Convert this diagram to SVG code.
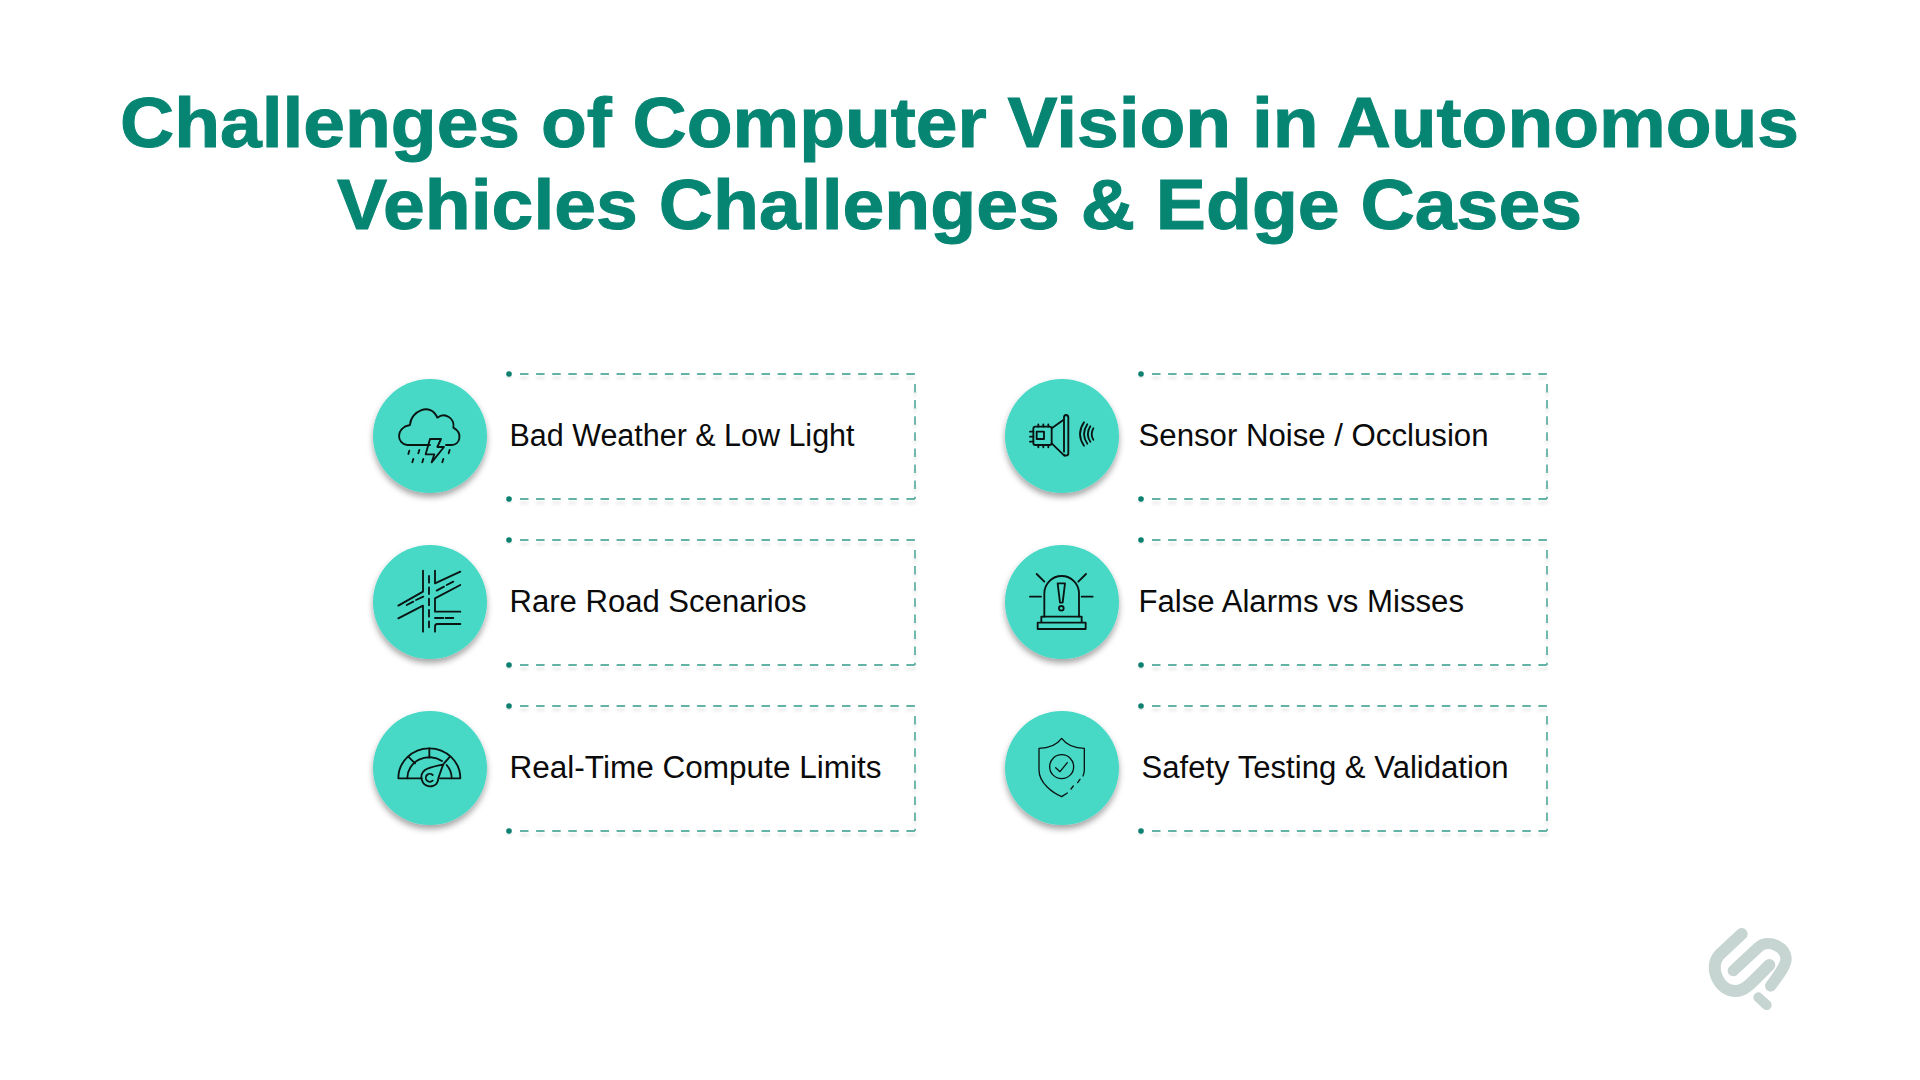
<svg xmlns="http://www.w3.org/2000/svg" width="1920" height="1080" viewBox="0 0 1920 1080">
<style>
.title{font-family:"Liberation Sans",Arial,sans-serif;font-weight:700;font-size:71px;fill:#078573;stroke:#078573;stroke-width:1}
.label{font-family:"Liberation Sans",Arial,sans-serif;font-size:31px;fill:#0b0b0b}
.disc{fill:#46d9c6;filter:url(#discShadow)}
.frame{fill:none;stroke:#62b3a5;stroke-width:1.8;stroke-dasharray:8.5 7.6;filter:url(#lineShadow)}
.dot{fill:#0a8070;filter:url(#lineShadow)}
.ico{fill:none;stroke:#0a1412;stroke-width:5.5;stroke-linecap:round;stroke-linejoin:round}
.thin{stroke-width:4}
.logo{fill:none;stroke:#c6d5d1;stroke-linecap:round;stroke-linejoin:round}
</style>
<defs>
<filter id="discShadow" x="-30%" y="-30%" width="160%" height="160%"><feDropShadow dx="0" dy="4" stdDeviation="3" flood-color="#000" flood-opacity=".36"/></filter>
<filter id="lineShadow" x="-5%" y="-20%" width="110%" height="140%"><feDropShadow dx="0" dy="4" stdDeviation="1.6" flood-color="#000" flood-opacity=".1"/></filter>
</defs>
<rect width="1920" height="1080" fill="#fff"/>
<g id="title">
<text class="title" x="120" y="147" textLength="1679" lengthAdjust="spacingAndGlyphs">Challenges of Computer Vision in Autonomous</text>
<text class="title" x="337" y="229" textLength="1245" lengthAdjust="spacingAndGlyphs">Vehicles Challenges &amp; Edge Cases</text>
</g>
<g id="connectors"></g>

<g id="node-bad-weather">
<path class="frame" d="M520,374H915M915,384V499M520,499H915"/>
<circle class="dot" cx="509" cy="374" r="2.8"/><circle class="dot" cx="509" cy="499" r="2.8"/>
<circle class="disc" cx="430" cy="436" r="57"/>
<g class="ico" transform="translate(380,385) scale(.3333)">
<path d="M150,180H82C50,178 45,128 90,120C92,78 152,50 172,98C195,80 225,100 220,128C250,145 240,180 215,180H198"/>
<path d="M150,162H183L172,186H192L155,232L163,208H137Z"/>
<path d="M88,197L85,207M118,195L115,205M209,195L206,205M100,222L97,232M130,222L127,232M190,222L187,232"/>
</g>
<text class="label" x="509.5" y="446" textLength="345" lengthAdjust="spacingAndGlyphs">Bad Weather &amp; Low Light</text>
</g>

<g id="node-rare-road">
<path class="frame" d="M520,540H915M915,550V665M520,665H915"/>
<circle class="dot" cx="509" cy="540" r="2.8"/><circle class="dot" cx="509" cy="665" r="2.8"/>
<circle class="disc" cx="430" cy="602" r="57"/>
<g class="ico" transform="translate(380,550) scale(.3333)">
<path d="M129,62V125L55,167M55,205L129,167V245M165,62V100L241,65M241,105L165,145V185H241M241,222H172Q165,222 165,230V245"/>
<path d="M147,78V98M147,112V132M147,146V166M147,180V200M147,214V232"/>
<path d="M170,122L192,110M200,105L220,95M80,165L100,155M108,150L130,140M165,204H190M197,204H220"/>
</g>
<text class="label" x="509.5" y="612" textLength="297" lengthAdjust="spacingAndGlyphs">Rare Road Scenarios</text>
</g>

<g id="node-real-time">
<path class="frame" d="M520,706H915M915,716V831M520,831H915"/>
<circle class="dot" cx="509" cy="706" r="2.8"/><circle class="dot" cx="509" cy="831" r="2.8"/>
<circle class="disc" cx="430" cy="768" r="57"/>
<g class="ico" transform="translate(380,715) scale(.3333)">
<path d="M125,190H55A93,90 0 0 1 241,190H180"/>
<path d="M82,190A66,62 0 0 1 186,138M200,150A66,62 0 0 1 215,190"/>
<path d="M148,100V128M85,125L105,145M210,125L192,145"/>
<path d="M190,148C175,152 150,155 135,165C115,180 125,212 148,214C170,214 175,200 175,190C180,175 185,160 190,148Z"/>
<path d="M158,180A12,12 0 1 0 158,197"/>
</g>
<text class="label" x="509.5" y="778" textLength="372" lengthAdjust="spacingAndGlyphs">Real-Time Compute Limits</text>
</g>

<g id="node-sensor-noise">
<path class="frame" d="M1152,374H1547M1547,384V499M1152,499H1547"/>
<circle class="dot" cx="1141" cy="374" r="2.8"/><circle class="dot" cx="1141" cy="499" r="2.8"/>
<circle class="disc" cx="1062" cy="436" r="57"/>
<g class="ico" transform="translate(1010,385) scale(.3333)">
<rect x="70" y="125" width="55" height="55" rx="6"/><rect x="80" y="140" width="22" height="22"/>
<path d="M60,140H70M60,155H70M60,170H70M85,118V125M100,118V125M115,118V125M85,180V187M100,180V187M115,180V187"/>
<path d="M125,130L160,105M125,175L163,212"/>
<path d="M162,200V98Q162,90 168,90Q175,90 175,98V205Q175,212 168,212Q165,212 163,210"/>
<path d="M222,112Q198,148 222,182M232,118Q212,148 232,176M241,124Q226,148 241,170M250,130Q240,148 250,164"/>
</g>
<text class="label" x="1138.5" y="446" textLength="350" lengthAdjust="spacingAndGlyphs">Sensor Noise / Occlusion</text>
</g>

<g id="node-false-alarms">
<path class="frame" d="M1152,540H1547M1547,550V665M1152,665H1547"/>
<circle class="dot" cx="1141" cy="540" r="2.8"/><circle class="dot" cx="1141" cy="665" r="2.8"/>
<circle class="disc" cx="1062" cy="602" r="57"/>
<g class="ico" transform="translate(1010,550) scale(.3333)">
<path d="M103,200V130A52,52 0 0 1 207,130V200"/>
<path d="M94,218V200H215V218M83,218H227V237H83Z"/>
<path d="M80,72L103,95M228,72L205,95M60,140H93M215,140H248"/>
<path d="M143,100H165L158,158H150Z"/><circle cx="154" cy="175" r="7"/>
</g>
<text class="label" x="1138.5" y="612" textLength="325.5" lengthAdjust="spacingAndGlyphs">False Alarms vs Misses</text>
</g>

<g id="node-safety-testing">
<path class="frame" d="M1152,706H1547M1547,716V831M1152,831H1547"/>
<circle class="dot" cx="1141" cy="706" r="2.8"/><circle class="dot" cx="1141" cy="831" r="2.8"/>
<circle class="disc" cx="1062" cy="768" r="57"/>
<g class="ico thin" transform="translate(1010,715) scale(.3333)">
<path d="M172,234L155,245C130,235 87,205 87,165V100C115,100 140,90 155,70C170,90 195,100 223,100V165C223,172 221,178 219,183"/>
<path d="M210,193L203,203M190,213L183,222"/>
<circle cx="155" cy="155" r="36"/>
<path d="M137,158L150,170L172,143"/>
</g>
<text class="label" x="1141.5" y="778" textLength="367" lengthAdjust="spacingAndGlyphs">Safety Testing &amp; Validation</text>
</g>

<g id="logo" transform="translate(1690,910) scale(.3333)">
<path class="logo" stroke-width="36" d="M155,72L88,135C55,170 85,245 140,243C165,241 178,225 238,165"/>
<path class="logo" stroke-width="34" d="M130,182L205,112C235,85 290,110 288,150C285,170 270,190 242,228"/>
<path class="logo" stroke-width="30" d="M205,262L230,285"/>
</g>
</svg>
